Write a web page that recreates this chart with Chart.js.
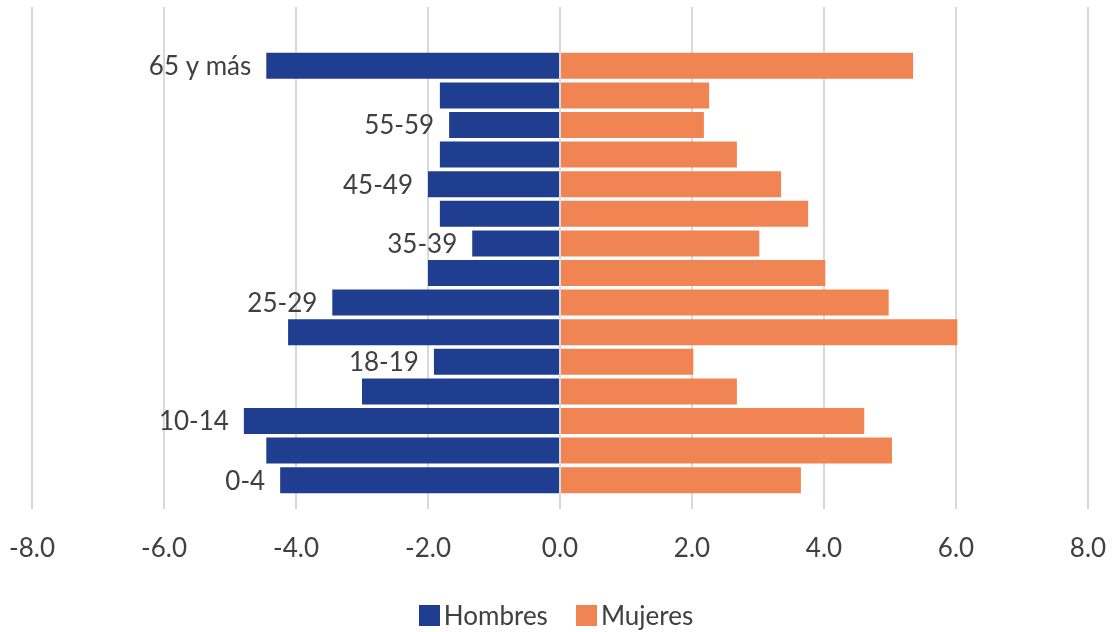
<!DOCTYPE html>
<html>
<head>
<meta charset="utf-8">
<script src="https://cdn.jsdelivr.net/npm/chart.js@4.4.1/dist/chart.umd.min.js"></script>
<style>
  html, body { margin: 0; padding: 0; background: #fff; }
  #wrap { position: relative; width: 1112px; height: 632px; }
  #legend {
    position: absolute; left: 0; top: 601px; width: 1112px;
    display: flex; justify-content: center;
    font-family: Lato, sans-serif; font-size: 26px; color: #404040; line-height: 28px;
  }
  .item { display: flex; align-items: center; margin: 0 14px; }
  .box { width: 21px; height: 21px; margin-right: 4px; }
</style>
</head>
<body>
<div id="wrap">
  <canvas id="pyramid" width="1112" height="632"></canvas>
  <div id="legend"></div>
</div>
<script>
// age groups, top to bottom
const ageGroups = ['65 y más', '60-64', '55-59', '50-54', '45-49', '40-44', '35-39', '30-34',
  '25-29', '20-24', '18-19', '15-17', '10-14', '5-9', '0-4'];
const hombres = [-4.45, -1.82, -1.68, -1.82, -2.0, -1.82, -1.33, -2.0, -3.45, -4.12, -1.91, -3.0, -4.79, -4.45, -4.24];
const mujeres = [5.35, 2.26, 2.18, 2.68, 3.35, 3.76, 3.02, 4.02, 4.98, 6.02, 2.02, 2.68, 4.61, 5.03, 3.65];
const seriesNames = ['Hombres', 'Mujeres'];
const seriesColors = ['#1f3e8f', '#f08553'];

const textColor = '#404040';
const gridColor = '#d9d9d9';

// labels next to the left end of the men's bars (every other group)
const groupLabels = {
  id: 'groupLabels',
  afterDatasetsDraw(chart) {
    const ctx = chart.ctx;
    const bars = chart.getDatasetMeta(0).data;
    ctx.save();
    ctx.font = '26px Lato';
    ctx.fillStyle = textColor;
    ctx.textAlign = 'right';
    ctx.textBaseline = 'middle';
    bars.forEach((bar, i) => {
      if (i % 2 !== 0) return;
      ctx.fillText(ageGroups[i], bar.x - 15, bar.y + 1);
    });
    ctx.restore();
  }
};

const chart = new Chart(document.getElementById('pyramid'), {
  type: 'bar',
  data: {
    labels: ageGroups,
    datasets: [
      { label: seriesNames[0], data: hombres, backgroundColor: seriesColors[0] },
      { label: seriesNames[1], data: mujeres, backgroundColor: seriesColors[1] }
    ]
  },
  options: {
    indexAxis: 'y',
    responsive: false,
    animation: false,
    datasets: { bar: { categoryPercentage: 0.88, barPercentage: 1, borderWidth: 0 } },
    layout: { padding: { left: 24, right: 24, top: 7, bottom: 0 } },
    plugins: {
      legend: { display: false },
      tooltip: { enabled: false }
    },
    scales: {
      x: {
        stacked: true,
        min: -8, max: 8,
        ticks: {
          stepSize: 2,
          padding: 24,
          color: textColor,
          font: { family: 'Lato', size: 26 },
          callback: v => v.toFixed(1),
          maxRotation: 0
        },
        grid: { color: gridColor, lineWidth: 2, tickLength: 14 },
        border: { display: false },
        afterFit: s => { s.height = 137; s.paddingLeft = 0; s.paddingRight = 0; }
      },
      // only used to extend the grid lines above the bars
      xTop: {
        position: 'top',
        min: -8, max: 8,
        ticks: { stepSize: 2, display: false },
        grid: { color: gridColor, lineWidth: 2, drawOnChartArea: false, tickLength: 44 },
        border: { display: false },
        afterFit: s => { s.height = 44; s.paddingLeft = 0; s.paddingRight = 0; }
      },
      y: {
        stacked: true,
        ticks: { display: false },
        grid: { display: false },
        border: { display: false }
      }
    }
  },
  plugins: [groupLabels]
});

// legend built from the datasets
const legendEl = document.getElementById('legend');
chart.data.datasets.forEach(ds => {
  const item = document.createElement('div');
  item.className = 'item';
  const box = document.createElement('span');
  box.className = 'box';
  box.style.background = ds.backgroundColor;
  const txt = document.createElement('span');
  txt.textContent = ds.label;
  item.appendChild(box);
  item.appendChild(txt);
  legendEl.appendChild(item);
});
</script>
</body>
</html>
